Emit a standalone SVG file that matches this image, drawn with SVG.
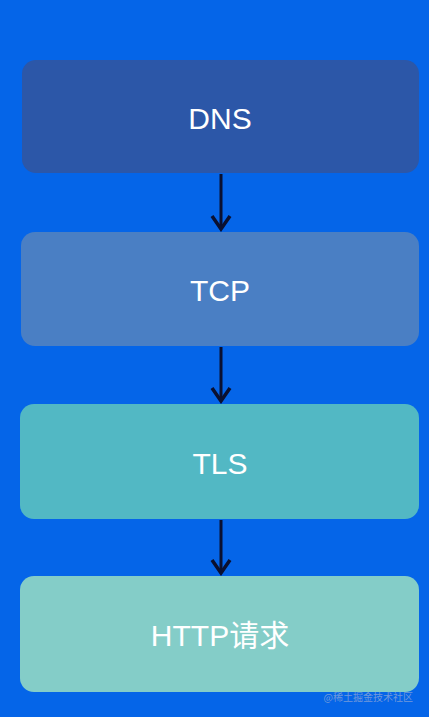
<svg xmlns="http://www.w3.org/2000/svg" width="429" height="717" viewBox="0 0 429 717">
<style>
.lbl{font-family:"Liberation Sans","Noto Sans CJK SC",sans-serif;font-size:30px;fill:#ffffff;text-anchor:middle}
.edge{stroke:#0a1030;stroke-width:3;fill:none}
</style>
<defs>
<marker id="ah" markerWidth="18" markerHeight="22" refX="15" refY="11" orient="auto" markerUnits="userSpaceOnUse" viewBox="0 0 18 22">
<path d="M2,2 L15,11 L2,20" stroke="#0a1030" stroke-width="3.5" fill="none" stroke-linejoin="miter"/>
</marker>
</defs>
<rect width="429" height="717" fill="#0565e8"/>
<g id="dns"><rect x="22" y="60" width="397" height="113" rx="14" fill="#2c57a8"/><text class="lbl" x="220" y="129">DNS</text></g>
<g id="tcp"><rect x="21" y="232" width="398" height="114" rx="14" fill="#4a7fc4"/><text class="lbl" x="220" y="301">TCP</text></g>
<g id="tls"><rect x="20" y="404" width="399" height="115" rx="14" fill="#52b8c4"/><text class="lbl" x="220" y="474">TLS</text></g>
<g id="http"><rect x="20" y="576" width="399" height="116" rx="14" fill="#84cdc8"/><text class="lbl" x="220" y="646">HTTP请求</text></g>
<g id="connectors">
<line class="edge" x1="221" y1="174" x2="221" y2="229" marker-end="url(#ah)"/>
<line class="edge" x1="221" y1="347" x2="221" y2="401" marker-end="url(#ah)"/>
<line class="edge" x1="221" y1="520" x2="221" y2="573" marker-end="url(#ah)"/>
</g>
<text x="413" y="701" font-family="'Noto Sans CJK SC',sans-serif" font-size="10" fill="#8aa6d8" text-anchor="end" opacity="0.8">@稀土掘金技术社区</text>
</svg>
